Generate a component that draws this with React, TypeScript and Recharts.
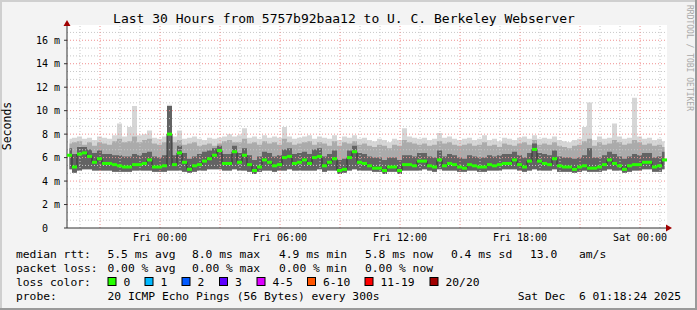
import React from 'react';
import { ComposedChart, Area, Line, Scatter, XAxis, YAxis, ReferenceLine, CartesianGrid } from 'recharts';

// 30 hours, one column every 15 minutes, hours counted from Fri 00:00
const START_HOUR = -4.65;
const STEP_HOURS = 0.25;
const END_HOUR = 25.35;
const Y_MAX = 17.3;

const timeTicks = [0, 6, 12, 18, 24];
const timeLabels = ['Fri 00:00', 'Fri 06:00', 'Fri 12:00', 'Fri 18:00', 'Sat 00:00'];
const yTicks = [0, 2, 4, 6, 8, 10, 12, 14, 16];

// median rtt (ms)
const median = [
  6.2, 5.2, 6.3, 6.4, 6.1, 5.6, 5.9, 5.5, 5.5, 5.4,
  5.3, 5.2, 5.2, 5.4, 5.4, 5.5, 5.8, 5.2, 5.2, 5.3,
  8.0, 5.4, 6.4, 5.6, 5.0, 5.3, 5.4, 5.7, 5.9, 6.2,
  6.6, 5.5, 5.5, 6.5, 5.6, 6.2, 5.4, 4.9, 5.2, 5.8,
  5.6, 5.3, 5.4, 6.0, 6.1, 5.5, 5.6, 5.8, 5.5, 6.0,
  6.1, 5.3, 5.6, 5.9, 4.9, 5.0, 6.0, 6.5, 5.6, 5.5,
  5.3, 5.1, 5.1, 4.9, 5.2, 5.2, 4.9, 5.4, 5.4, 5.3,
  5.7, 5.7, 5.3, 5.2, 5.8, 5.3, 5.5, 5.4, 5.2, 5.1,
  5.4, 5.3, 5.2, 5.2, 5.4, 5.3, 5.4, 5.5, 5.5, 5.8,
  5.4, 5.2, 5.7, 6.7, 5.7, 5.5, 5.4, 5.9, 5.3, 5.2,
  5.2, 5.0, 5.2, 5.3, 5.1, 5.1, 5.2, 5.4, 5.8, 5.5,
  5.3, 5.0, 5.3, 5.4, 5.4, 5.6, 5.6, 5.2, 5.3, 5.8,
];

// lowest ping
const low = [
  5.0, 4.7, 4.9, 5.0, 5.0, 4.9, 4.9, 4.9, 4.9, 4.8,
  4.8, 4.8, 4.8, 4.9, 4.9, 4.9, 4.9, 4.8, 4.8, 4.8,
  4.9, 4.9, 4.9, 4.8, 4.7, 4.8, 4.9, 4.9, 5.0, 5.0,
  5.0, 4.9, 4.9, 5.0, 4.9, 4.9, 4.8, 4.6, 4.8, 4.9,
  4.9, 4.8, 4.9, 4.9, 5.0, 4.9, 4.9, 4.9, 4.9, 4.9,
  5.0, 4.8, 4.9, 4.9, 4.6, 4.7, 4.9, 5.0, 4.9, 4.9,
  4.9, 4.8, 4.8, 4.6, 4.8, 4.8, 4.6, 4.9, 4.9, 4.9,
  4.9, 5.0, 4.9, 4.8, 5.0, 4.9, 4.9, 4.9, 4.8, 4.8,
  4.9, 4.9, 4.8, 4.8, 4.9, 4.9, 4.9, 5.0, 5.0, 5.0,
  4.9, 4.8, 4.9, 5.0, 4.9, 4.9, 4.9, 5.0, 4.8, 4.8,
  4.8, 4.7, 4.8, 4.9, 4.8, 4.8, 4.8, 4.9, 5.0, 4.9,
  4.9, 4.7, 4.8, 4.9, 4.9, 5.0, 5.0, 4.8, 4.8, 5.0,
];

// top of the dark core of the smoke
const core = [
  6.8, 6.3, 6.9, 6.9, 6.7, 6.4, 6.6, 6.3, 6.3, 6.2,
  6.2, 6.1, 6.1, 6.3, 6.2, 6.4, 6.5, 6.1, 6.0, 6.2,
  10.4, 6.2, 7.0, 6.4, 5.9, 6.1, 6.3, 6.5, 6.6, 6.8,
  7.0, 6.3, 6.3, 7.0, 6.4, 6.8, 6.2, 5.8, 6.1, 6.5,
  6.4, 6.1, 6.2, 6.7, 6.8, 6.3, 6.4, 6.5, 6.3, 6.7,
  6.8, 6.1, 6.3, 6.6, 5.8, 5.9, 6.6, 7.0, 6.4, 6.3,
  6.1, 6.0, 6.0, 5.8, 6.0, 6.0, 5.8, 6.2, 6.2, 6.1,
  6.4, 6.4, 6.1, 6.0, 6.6, 6.1, 6.3, 6.2, 6.0, 5.9,
  6.2, 6.1, 6.0, 6.0, 6.2, 6.1, 6.2, 6.3, 6.3, 6.5,
  6.2, 6.0, 6.4, 7.2, 6.4, 6.3, 6.2, 6.6, 6.1, 6.0,
  6.0, 5.9, 6.0, 6.2, 6.8, 6.0, 6.0, 6.2, 6.5, 6.3,
  6.1, 5.9, 6.1, 6.3, 6.2, 6.4, 6.4, 6.0, 6.1, 6.5,
];

// top of the middle grey band
const mid = [
  7.2, 7.3, 7.4, 7.1, 7.3, 7.0, 7.3, 7.2, 7.1, 7.4,
  7.6, 7.3, 7.4, 7.8, 7.3, 7.5, 7.6, 7.2, 7.1, 7.3,
  10.3, 7.3, 7.5, 7.1, 7.2, 7.3, 7.0, 7.1, 7.2, 7.0,
  7.2, 7.4, 7.5, 7.3, 7.3, 7.6, 7.2, 7.3, 7.1, 7.4,
  7.2, 7.3, 7.1, 7.6, 7.3, 7.1, 7.2, 7.3, 7.4, 7.1,
  7.3, 7.2, 7.0, 7.4, 7.0, 7.3, 7.2, 7.4, 7.1, 7.2,
  7.0, 6.9, 7.1, 7.0, 6.8, 7.1, 7.0, 7.5, 7.3, 7.2,
  7.1, 7.2, 7.0, 7.1, 7.4, 7.2, 7.3, 7.1, 7.0, 7.1,
  7.2, 7.0, 7.1, 7.3, 7.0, 7.1, 6.9, 7.2, 7.1, 7.0,
  7.2, 7.3, 7.1, 7.5, 7.1, 7.2, 7.1, 7.3, 7.0, 6.9,
  6.8, 7.0, 7.1, 7.4, 7.6, 7.0, 7.3, 7.1, 7.2, 7.5,
  7.3, 7.1, 7.2, 7.5, 7.3, 7.1, 7.2, 7.0, 7.1, 6.9,
];

// highest ping
const high = [
  7.6, 7.7, 7.8, 7.6, 7.7, 7.5, 7.8, 7.7, 7.6, 7.9,
  8.9, 7.8, 8.6, 10.4, 7.9, 8.0, 8.3, 7.7, 7.6, 7.8,
  10.5, 7.8, 8.3, 7.6, 7.7, 7.8, 7.6, 7.5, 7.7, 7.6,
  7.7, 7.8, 8.0, 7.8, 7.9, 8.5, 7.7, 7.8, 7.6, 7.9,
  7.7, 7.8, 7.7, 8.6, 7.8, 7.6, 7.7, 7.8, 7.9, 7.6,
  7.8, 7.7, 7.6, 7.9, 7.5, 7.8, 7.7, 7.9, 7.6, 7.7,
  7.5, 7.4, 7.6, 7.5, 7.3, 7.6, 7.5, 8.5, 7.8, 7.7,
  7.6, 7.7, 7.5, 7.6, 8.1, 7.7, 7.8, 7.6, 7.5, 7.6,
  7.7, 7.5, 7.6, 7.9, 7.5, 7.6, 7.4, 7.7, 7.6, 7.5,
  7.7, 7.8, 7.6, 7.9, 7.6, 7.7, 7.6, 7.8, 7.5, 7.4,
  7.3, 7.5, 7.6, 8.6, 10.7, 7.5, 7.8, 7.6, 7.7, 8.9,
  7.8, 7.6, 7.7, 11.1, 7.8, 7.6, 7.7, 7.5, 7.6, 7.4,
];

const statsRow = ['5.5 ms avg', '8.0 ms max', '4.9 ms min', '5.8 ms now', '0.4 ms sd', '13.0', 'am/s'];
const lossRow = ['0.00 % avg', '0.00 % max', '0.00 % min', '0.00 % now'];
const lossLabels = ['0', '1', '2', '3', '4-5', '6-10', '11-19', '20/20'];
const lossColors = ['#26ff00', '#00b8ff', '#0059ff', '#5e00ff', '#dd00ff', '#ff5500', '#ff0000', '#a10000'];

const rows = median.map((m, i) => ({
  t: START_HOUR + STEP_HOURS * (i + 0.5),
  med: m,
  outer: [low[i], high[i]],
  middle: [low[i], mid[i]],
  inner: [low[i], core[i]],
}));

const minorY: number[] = [];
for (let k = 1; k * (2 / 3) < Y_MAX; k++) if (k % 3 !== 0) minorY.push(k * (2 / 3));
const minorX: number[] = [];
const majorX: number[] = [];
for (let h = -4; h <= 25; h++) (h % 3 === 0 ? majorX : minorX).push(h);

const mono = '"DejaVu Sans Mono", monospace';
const statsX = [107.5, 192, 279, 365, 451, 530, 579];
const boxX = [108, 145, 182, 219.5, 257, 307.5, 365, 430];

const MedianMark = (props: any) => (
  <rect x={props.cx - 2.5} y={props.cy - 1.5} width={5} height={3} fill="#26ff00" />
);

export default function App() {
  return (
    <div style={{ position: 'absolute', left: 0, top: 0, width: 697, height: 310, background: '#f3f3f3' }}>
      <ComposedChart width={697} height={310} data={rows} margin={{ top: 25, right: 30, bottom: 0, left: 0 }}>
        <CartesianGrid fill="#ffffff" stroke="transparent" />
        <XAxis
          dataKey="t"
          type="number"
          domain={[START_HOUR, END_HOUR]}
          ticks={timeTicks}
          tickFormatter={(v: number) => timeLabels[timeTicks.indexOf(v)]}
          height={82}
          tickLine={false}
          tickSize={0}
          tickMargin={6}
          axisLine={{ stroke: '#333' }}
          tick={{ fontSize: 10, fontFamily: mono, fill: '#000' }}
          allowDataOverflow
        />
        <YAxis
          type="number"
          domain={[0, Y_MAX]}
          ticks={yTicks}
          tickFormatter={(v: number) => (v === 0 ? '0\u00a0\u00a0' : `${v} m`)}
          width={67}
          tickSize={3}
          tickMargin={4}
          tickLine={{ stroke: '#333' }}
          axisLine={{ stroke: '#333' }}
          tick={{ fontSize: 10, fontFamily: mono, fill: '#000' }}
          allowDataOverflow
        />
        <Area type="step" dataKey="outer" stroke="none" fill="#d6d6d6" fillOpacity={1} isAnimationActive={false} />
        <Area type="step" dataKey="middle" stroke="none" fill="#ababab" fillOpacity={1} isAnimationActive={false} />
        <Area type="step" dataKey="inner" stroke="none" fill="#636363" fillOpacity={1} isAnimationActive={false} />
        {minorY.map((v) => (
          <ReferenceLine key={'my' + v} y={v} stroke="#c8c8c8" strokeDasharray="1 2" />
        ))}
        {minorX.map((v) => (
          <ReferenceLine key={'mx' + v} x={v} stroke="#c8c8c8" strokeDasharray="1 2" />
        ))}
        {yTicks.slice(1).map((v) => (
          <ReferenceLine key={'My' + v} y={v} stroke="#f09090" strokeDasharray="1 2" />
        ))}
        {majorX.map((v) => (
          <ReferenceLine key={'Mx' + v} x={v} stroke="#f09090" strokeDasharray="1 2" />
        ))}
        <Line type="step" dataKey="med" stroke="#333" strokeWidth={1} dot={false} isAnimationActive={false} />
        <Scatter dataKey="med" shape={MedianMark} isAnimationActive={false} />
      </ComposedChart>
      <svg
        width={697}
        height={310}
        style={{ position: 'absolute', left: 0, top: 0, pointerEvents: 'none' }}
        fontFamily={mono}
      >
        <line x1={0} y1={1} x2={697} y2={1} stroke="#cfcfcf" strokeWidth={2} />
        <line x1={1} y1={0} x2={1} y2={310} stroke="#cfcfcf" strokeWidth={2} />
        <line x1={0} y1={309} x2={697} y2={309} stroke="#9a9a9a" strokeWidth={2} />
        <line x1={696} y1={0} x2={696} y2={310} stroke="#9a9a9a" strokeWidth={2} />
        <polygon points="67,20 63.5,26 70.5,26" fill="#a00000" />
        <polygon points="672,228 666,224.5 666,231.5" fill="#a00000" />
        <text x={344} y={22.5} fontSize={13} textAnchor="middle" fill="#000">
          Last 30 Hours from 5757b92baa12 to U. C. Berkeley Webserver
        </text>
        <text x={11} y={126} fontSize={11.5} textAnchor="middle" fill="#000" transform="rotate(-90 11 126)">
          Seconds
        </text>
        <text x={687} y={5} fontSize={8} fill="#a8a8a8" transform="rotate(90 687 5)">
          RRDTOOL / TOBI OETIKER
        </text>
        <g fontSize={11.3} fill="#000">
          <text x={16} y={258}>median rtt:</text>
          {statsRow.map((s, i) => (
            <text key={s} x={statsX[i]} y={258} xmlSpace="preserve">{s}</text>
          ))}
          <text x={16} y={271.5}>packet loss:</text>
          {lossRow.map((s, i) => (
            <text key={s} x={statsX[i]} y={271.5}>{s}</text>
          ))}
          <text x={16} y={285.5}>loss color:</text>
          {lossLabels.map((s, i) => (
            <g key={s}>
              <rect x={boxX[i]} y={277.5} width={8} height={8} fill={lossColors[i]} stroke="#000" strokeWidth={1} />
              <text x={boxX[i] + 15.5} y={285.5}>{s}</text>
            </g>
          ))}
          <text x={16} y={299.5}>probe:</text>
          <text x={107.5} y={299.5}>20 ICMP Echo Pings (56 Bytes) every 300s</text>
          <text x={681} y={299.5} textAnchor="end" xmlSpace="preserve">Sat Dec  6 01:18:24 2025</text>
        </g>
      </svg>
    </div>
  );
}
